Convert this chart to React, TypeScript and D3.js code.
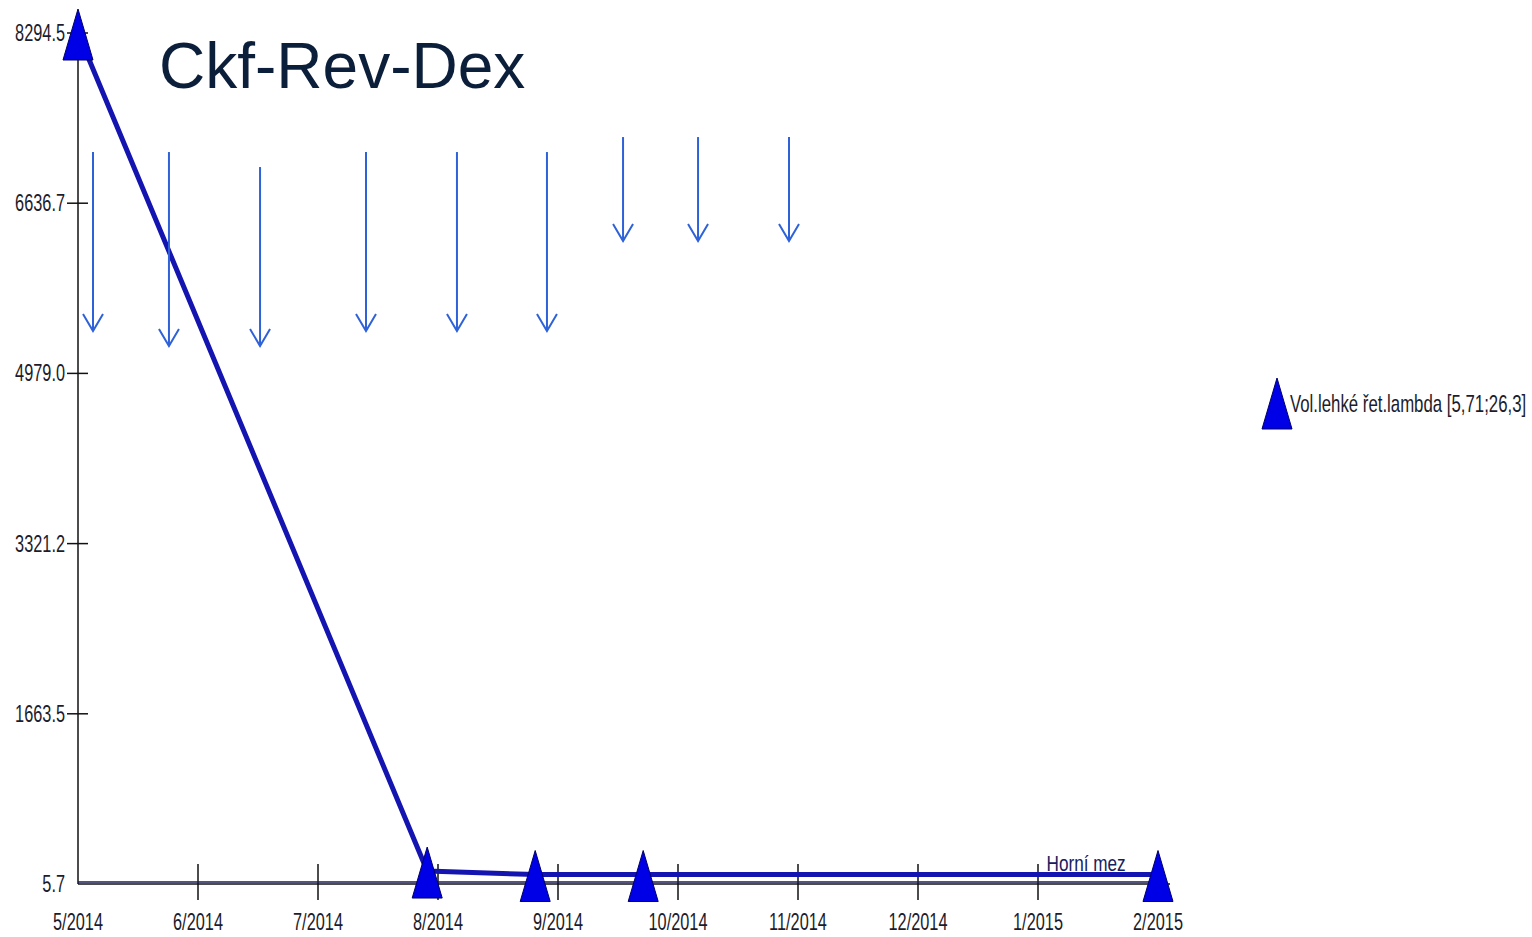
import React from 'react';
import { scaleLinear, line } from 'd3';

// month index: 0 = 5/2014 ... 9 = 2/2015
const monthLabels = ['5/2014', '6/2014', '7/2014', '8/2014', '9/2014', '10/2014', '11/2014', '12/2014', '1/2015', '2/2015'];
const yTickValues = [8294.5, 6636.7, 4979.0, 3321.2, 1663.5, 5.7];

const pointMonths = [0, 2.91, 3.81, 4.71, 9];
const pointValues = [8294.5, 132, 98, 98, 98];

const upperLimit = 26.3;

// treatment arrows
const arrowMonths = [0.125, 0.758, 1.517, 2.4, 3.158, 3.908, 4.542, 5.167, 5.925];
const arrowFrom = [7135, 7135, 6989, 7135, 7135, 7135, 7281, 7281, 7281];
const arrowTo = [5392, 5246, 5246, 5392, 5392, 5392, 6268, 6268, 6268];

const W = 1532;
const H = 937;
const NARROW = 0.68;

const tri = 'M0,-24 L15,27 L-15,27 Z';

export default function App() {
  const x = scaleLinear().domain([0, 9]).range([78, 1158]);
  const y = scaleLinear().domain([5.7, 8294.5]).range([884, 33]);

  const data = pointMonths.map((m, i) => ({ m, v: pointValues[i] }));
  const path = line<{ m: number; v: number }>()
    .x(d => x(d.m))
    .y(d => y(d.v))(data);

  const labelFont = { fontFamily: 'Liberation Sans, Arial, sans-serif', fontSize: 24, fill: '#1c1c2c' };

  return (
    <svg width={W} height={H} style={{ position: 'absolute', left: 0, top: 0, background: '#fff' }}>
      <rect width={W} height={H} fill="#fff" />

      {/* axes */}
      <line x1={x(0)} x2={x(0)} y1={12} y2={y(5.7)} stroke="#111" strokeWidth={1.5} />
      <line x1={x(0)} x2={x(9) + 12} y1={y(5.7)} y2={y(5.7)} stroke="#111" strokeWidth={1.5} />

      {yTickValues.map(v => (
        <g key={v}>
          {v !== 5.7 && <line x1={x(0) - 11} x2={x(0) + 10} y1={y(v)} y2={y(v)} stroke="#111" strokeWidth={1.5} />}
          <text
            transform={`translate(${x(0) - 13},${y(v) + 8}) scale(${NARROW},1)`}
            textAnchor="end"
            {...labelFont}
          >
            {v.toFixed(1)}
          </text>
        </g>
      ))}

      {monthLabels.map((lab, i) => (
        <g key={lab}>
          {i > 0 && <line x1={x(i)} x2={x(i)} y1={y(5.7) - 20} y2={y(5.7) + 16} stroke="#111" strokeWidth={1.5} />}
          <text transform={`translate(${x(i)},${y(5.7) + 46}) scale(${NARROW},1)`} textAnchor="middle" {...labelFont}>
            {lab}
          </text>
        </g>
      ))}

      {/* upper limit */}
      <line x1={x(0)} x2={x(9)} y1={y(upperLimit)} y2={y(upperLimit)} stroke="#1a1a50" strokeWidth={1.5} />
      <text
        transform={`translate(${x(8.73)},${y(upperLimit) - 11}) scale(0.78,1)`}
        textAnchor="end"
        fontFamily="Liberation Sans, Arial, sans-serif"
        fontSize={22}
        fill="#162060"
      >
        Horní mez
      </text>

      {/* series */}
      <path d={path || ''} fill="none" stroke="#1414b0" strokeWidth={5} strokeLinejoin="round" />
      {data.map((d, i) => (
        <path key={i} d={tri} transform={`translate(${x(d.m)},${y(d.v)})`} fill="#0000e6" stroke="#00006a" strokeWidth={1} />
      ))}

      {/* arrows */}
      {arrowMonths.map((m, i) => {
        const ax = x(m);
        const y1 = y(arrowFrom[i]);
        const y2 = y(arrowTo[i]);
        return (
          <g key={i} stroke="#2f62d8" strokeWidth={2} fill="none">
            <line x1={ax} x2={ax} y1={y1} y2={y2} />
            <path d={`M${ax - 10},${y2 - 17} L${ax},${y2} L${ax + 10},${y2 - 17}`} />
          </g>
        );
      })}

      {/* title */}
      <text x={159} y={88} fontFamily="Liberation Sans, Arial, sans-serif" fontSize={64} fill="#0b1e3a">
        Ckf-Rev-Dex
      </text>

      {/* legend */}
      <path d={tri} transform="translate(1277,402)" fill="#0000e6" stroke="#00006a" strokeWidth={1} />
      <text transform="translate(1290,412) scale(0.7,1)" {...labelFont}>
        Vol.lehké řet.lambda [5,71;26,3]
      </text>
    </svg>
  );
}
